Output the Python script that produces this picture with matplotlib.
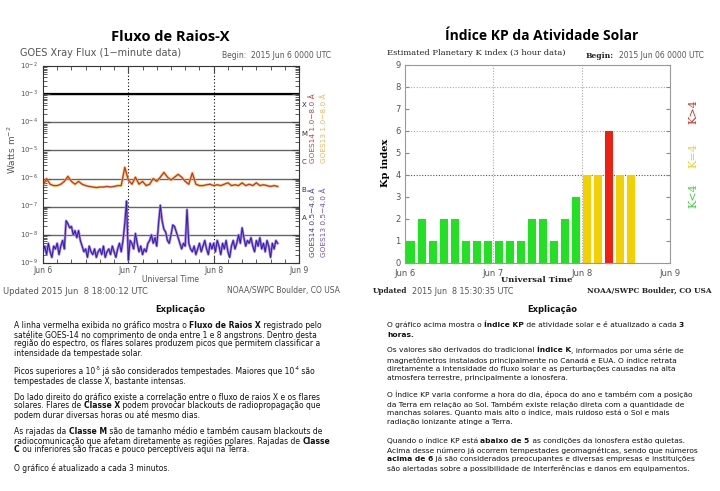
import re
import numpy as np
import matplotlib.pyplot as plt
from matplotlib.ticker import LogLocator, NullFormatter, FixedLocator

# GOES long channel (1-8 A), log10 W/m2, hourly from Jun 6 00:00
xray_long = [-6.25, -6.0, -6.2, -6.25, -6.25, -6.2, -6.1, -5.92, -6.1, -6.2, -6.1, -6.2,
             -6.25, -6.28, -6.3, -6.32, -6.3, -6.3, -6.28, -6.3, -6.28, -6.25, -6.25, -5.6,
             -6.05, -6.2, -5.95, -6.2, -6.1, -6.25, -6.2, -6.0, -6.1, -5.95, -5.78, -5.95,
             -6.05, -5.95, -5.85, -5.95, -6.1, -6.2, -5.8, -6.2, -6.25, -6.25, -6.22, -6.2,
             -6.25, -6.22, -6.25, -6.2, -6.15, -6.25, -6.22, -6.25, -6.15, -6.25, -6.2, -6.25,
             -6.15, -6.25, -6.22, -6.25, -6.28, -6.25, -6.28]
# GOES short channel (0.5-4 A), log10 W/m2, every 30 min
xray_short = [-8.6, -8.4, -8.7, -8.3, -8.6, -8.8, -8.4, -8.5, -8.3, -8.7, -8.4, -8.2,
              -8.5, -7.5, -7.6, -7.75, -7.7, -8.0, -7.85, -8.1, -7.85, -8.2, -8.4, -8.6,
              -8.5, -8.8, -8.4, -8.6, -8.7, -8.5, -8.8, -8.6, -8.5, -8.7, -8.4, -8.8,
              -8.6, -8.5, -8.7, -8.4, -8.6, -8.8, -8.5, -8.3, -8.6, -8.2, -7.6, -6.8,
              -8.9, -8.2, -8.3, -8.5, -7.95, -8.3, -8.6, -8.4, -8.7, -8.5, -8.6, -8.3,
              -8.2, -8.0, -8.3, -8.1, -8.4, -7.6, -6.95, -7.5, -7.8, -7.9, -8.2, -8.3,
              -8.0, -7.65, -7.7, -7.9, -8.1, -8.3, -8.5, -8.3, -8.4, -7.1, -8.3, -8.5,
              -8.6, -8.4, -8.7, -8.5, -8.3, -8.6, -8.4, -8.2, -8.5, -8.7, -8.3, -8.5,
              -8.3, -8.6, -8.2, -8.4, -8.7, -8.3, -8.5, -8.2, -8.6, -8.8, -8.4, -8.2,
              -8.5, -8.3, -8.0, -8.3, -7.75, -8.1, -8.4, -8.2, -8.3, -8.1, -8.4, -8.6,
              -8.2, -8.4, -8.1, -8.5, -8.3, -8.6, -8.2, -8.4, -8.8, -8.3, -8.5, -8.2,
              -8.3]
# Kp index, 3-hour intervals from Jun 6 00:00
kp = [1, 2, 1, 2, 2, 1, 1, 1,
      1, 1, 1, 2, 2, 1, 2, 3,
      4, 4, 6, 4, 4]
day_labels = ['Jun 6', 'Jun 7', 'Jun 8', 'Jun 9']
flare_classes = ['X', 'M', 'C', 'B', 'A']

left_text = [
    "A linha vermelha exibida no gráfico mostra o **Fluxo de Raios X** registrado pelo",
    "satélite GOES-14 no comprimento de onda entre 1 e 8 angstrons. Dentro desta",
    "região do espectro, os flares solares produzem picos que permitem classificar a",
    "intensidade da tempestade solar.",
    "Picos superiores a 10^{-5} já são considerados tempestades. Maiores que 10^{-4} são",
    "tempestades de classe X, bastante intensas.",
    "Do lado direito do gráfico existe a correlação entre o fluxo de raios X e os flares",
    "solares. Flares de **Classe X** podem provocar blackouts de radiopropagação que",
    "podem durar diversas horas ou até mesmo dias.",
    "As rajadas da **Classe M** são de tamanho médio e também causam blackouts de",
    "radiocomunicação que afetam diretamente as regiões polares. Rajadas de **Classe**",
    "**C** ou inferiores são fracas e pouco perceptíveis aqui na Terra.",
    "O gráfico é atualizado a cada 3 minutos.",
]
left_y = [326, 335, 344, 354, 372, 382, 397, 406, 415, 432, 441, 450, 468]

right_text = [
    "O gráfico acima mostra o **Índice KP** de atividade solar e é atualizado a cada **3**",
    "**horas.**",
    "Os valores são derivados do tradicional **Índice K**, informados por uma série de",
    "magnetômetros instalados principalmente no Canadá e EUA. O índice retrata",
    "diretamente a intensidade do fluxo solar e as perturbações causadas na alta",
    "atmosfera terrestre, principalmente a ionosfera.",
    "O Índice KP varia conforme a hora do dia, época do ano e também com a posição",
    "da Terra em relação ao Sol. Também existe relação direta com a quantidade de",
    "manchas solares. Quanto mais alto o índice, mais ruidoso está o Sol e mais",
    "radiação ionizante atinge a Terra.",
    "Quando o índice KP está **abaixo de 5** as condições da ionosfera estão quietas.",
    "Acima desse número já ocorrem tempestades geomagnéticas, sendo que números",
    "**acima de 6** já são considerados preocupantes e diversas empresas e instituições",
    "são alertadas sobre a possibilidade de interferências e danos em equipamentos.",
]
right_y = [325, 335, 350, 360, 369, 378, 394, 404, 413, 422, 441, 450, 459, 468]

W, H = 720, 491
fig = plt.figure(figsize=(7.2, 4.91), dpi=100)
fig.patch.set_facecolor('white')


def rect(x0, y0, x1, y1):
    return [x0 / W, 1 - y1 / H, (x1 - x0) / W, (y1 - y0) / H]


def ftext(x, y, s, **kw):
    return fig.text(x / W, 1 - y / H, s, **kw)


# ---------------- X-ray flux ----------------
ax1 = fig.add_axes(rect(43, 66, 299, 263))
t_long = np.arange(len(xray_long))
t_short = np.arange(len(xray_short)) * 0.5
for k in range(-8, -2):
    ax1.axhline(10.0 ** k, color='#666666', lw=1.0, zorder=1)
ax1.axhline(1e-3, color='black', lw=1.6, zorder=1)
for d in [24, 48]:
    ax1.axvline(d, color='black', lw=0.8, ls=(0, (1, 2)), zorder=1)
ax1.plot(t_short, 10.0 ** np.array(xray_short), color='#a47ae6', lw=1.8, zorder=2)
ax1.plot(t_short, 10.0 ** np.array(xray_short), color='#2a1fa8', lw=0.7, zorder=3)
ax1.plot(t_long, 10.0 ** np.array(xray_long), color='#f2a848', lw=1.7, zorder=2)
ax1.plot(t_long, 10.0 ** np.array(xray_long), color='#c82818', lw=0.7, zorder=3)
ax1.set_yscale('log')
ax1.set_ylim(1e-9, 1e-2)
ax1.set_xlim(0, 72)
ax1.yaxis.set_major_locator(LogLocator(base=10, numticks=10))
ax1.yaxis.set_minor_locator(LogLocator(base=10, subs=np.arange(2, 10), numticks=20))
ax1.yaxis.set_minor_formatter(NullFormatter())
ax1.set_yticklabels([])
ax1.set_xticks([0, 24, 48, 72])
ax1.set_xticklabels(day_labels)
ax1.xaxis.set_minor_locator(FixedLocator(np.arange(0, 73, 4)))
ax1.tick_params(axis='both', which='both', direction='in', top=True, right=True,
                colors='#444444', labelsize=5.5, labelcolor='#555555')
ax1.tick_params(axis='y', which='major', length=5)
ax1.tick_params(axis='y', which='minor', length=3)
ax1.tick_params(axis='x', which='major', length=5, pad=2)
ax1.tick_params(axis='x', which='minor', length=3)
for s in ax1.spines.values():
    s.set_color('#333333')
    s.set_linewidth(0.8)
for k in range(-9, -1):
    ax1.text(-1.5, 10.0 ** k, '10$^{%d}$' % k, ha='right', va='center',
             fontsize=5, color='#555555')
for i, c in enumerate(flare_classes):
    ax1.text(72.8, 10.0 ** (-3.4 - i), c, ha='left', va='center', fontsize=5,
             color='#333333', clip_on=False)

ftext(12, 150, 'Watts m$^{-2}$', rotation=90, ha='center', va='center',
      fontsize=6.5, color='#555555')
ftext(170, 37, 'Fluxo de Raios-X', ha='center', va='center', fontsize=10.5,
      fontweight='bold', family='Open Sans')
ftext(20, 53, 'GOES Xray Flux (1\u2212minute data)', ha='left', va='center',
      fontsize=7, color='#555555')
ftext(222, 56, 'Begin:  2015 Jun 6 0000 UTC', ha='left', va='center',
      fontsize=5.5, color='#555555')
ftext(170, 280, 'Universal Time', ha='center', va='center', fontsize=5.5, color='#555555')
ftext(3, 291, 'Updated 2015 Jun  8 18:00:12 UTC', ha='left', va='center',
      fontsize=6, color='#555555')
ftext(340, 291, 'NOAA/SWPC Boulder, CO USA', ha='right', va='center',
      fontsize=5.5, color='#555555')
ftext(313, 128, 'GOES14 1.0\u22128.0 Å', rotation=90, ha='center', va='center',
      fontsize=5.3, color='#c04040')
ftext(324, 128, 'GOES13 1.0\u22128.0 Å', rotation=90, ha='center', va='center',
      fontsize=5.3, color='#e8b860')
ftext(313, 222, 'GOES14 0.5\u22124.0 Å', rotation=90, ha='center', va='center',
      fontsize=5.3, color='#3a3aa0')
ftext(324, 222, 'GOES13 0.5\u22124.0 Å', rotation=90, ha='center', va='center',
      fontsize=5.3, color='#7050c0')

# ---------------- Kp index ----------------
ax2 = fig.add_axes(rect(405, 65, 670, 263))
kp_t = np.arange(len(kp)) * 3 + 1.5
kp_col = ['#22e022' if v < 4 else ('#f5d000' if v == 4 else '#f02010') for v in kp]
for yv in [4, 6, 8]:
    ax2.axhline(yv, color='#555555' if yv == 4 else '#aaaaaa', lw=0.8,
                ls=(0, (1, 1.5)), zorder=1)
for d in [24, 48]:
    ax2.axvline(d, color='#aaaaaa', lw=0.8, ls=(0, (1, 1.5)), zorder=1)
ax2.bar(kp_t, kp, width=2.2, color=kp_col, zorder=2)
ax2.set_xlim(0, 72)
ax2.set_ylim(0, 9)
ax2.set_yticks(range(10))
ax2.set_xticks([0, 24, 48, 72])
ax2.set_xticklabels(day_labels)
ax2.tick_params(axis='y', direction='in', right=True, length=3, labelsize=6,
                colors='#888888', labelcolor='#555555', pad=3)
ax2.tick_params(axis='x', direction='in', length=0, labelsize=6,
                labelcolor='#555555', pad=4)
for s in ax2.spines.values():
    s.set_color('#999999')
    s.set_linewidth(0.8)
ftext(385, 163, 'Kp index', rotation=90, ha='center', va='center', fontsize=7,
      fontweight='bold', family='DejaVu Serif')
ftext(542, 36, 'Índice KP da Atividade Solar', ha='center', va='center',
      fontsize=10, fontweight='bold', family='Open Sans')
ftext(387, 53, 'Estimated Planetary K index (3 hour data)', ha='left', va='center',
      fontsize=6, family='DejaVu Serif', color='#222222')
ftext(586, 56, 'Begin:', ha='left', va='center', fontsize=5.5, fontweight='bold',
      family='DejaVu Serif', color='#222222')
ftext(619, 56, '2015 Jun 06 0000 UTC', ha='left', va='center', fontsize=5.5,
      color='#555555')
ftext(537, 280, 'Universal Time', ha='center', va='center', fontsize=6,
      fontweight='bold', family='DejaVu Serif', color='#222222')
ftext(373, 291, 'Updated', ha='left', va='center', fontsize=5.3, fontweight='bold',
      family='DejaVu Serif', color='#222222')
ftext(412, 291, '2015 Jun  8 15:30:35 UTC', ha='left', va='center', fontsize=5.8,
      color='#555555')
ftext(712, 291, 'NOAA/SWPC Boulder, CO USA', ha='right', va='center', fontsize=5.3,
      fontweight='bold', family='DejaVu Serif', color='#222222')
ftext(693, 112, 'K>4', rotation=90, ha='center', va='center', fontsize=8,
      family='DejaVu Serif', color='#d03020')
ftext(693, 156, 'K=4', rotation=90, ha='center', va='center', fontsize=8,
      family='DejaVu Serif', color='#f0d020')
ftext(693, 196, 'K<4', rotation=90, ha='center', va='center', fontsize=8,
      family='DejaVu Serif', color='#40d040')

# ---------------- explanations ----------------
renderer = fig.canvas.get_renderer()


def rich_line(x, y, line, size=5.5):
    parts = line.split('**')
    for i, part in enumerate(parts):
        weight = 'bold' if i % 2 else 'normal'
        for piece in re.split(r'(\^\{[^}]*\})', part):
            if not piece:
                continue
            if piece.startswith('^{'):
                t = ftext(x, y - 3, piece[2:-1], ha='left', va='center',
                          fontsize=size * 0.65, fontweight=weight, color='#111111')
            else:
                t = ftext(x, y, piece, ha='left', va='center', fontsize=size,
                          fontweight=weight, color='#111111')
            x += t.get_window_extent(renderer).width


ftext(180, 310, 'Explicação', ha='center', va='center', fontsize=6,
      fontweight='bold', color='#111111')
ftext(552, 310, 'Explicação', ha='center', va='center', fontsize=6,
      fontweight='bold', color='#111111')
for line, y in zip(left_text, left_y):
    rich_line(14, y, line)
for line, y in zip(right_text, right_y):
    rich_line(387, y, line, size=5.4)

fig.savefig('out.png', dpi=100)
